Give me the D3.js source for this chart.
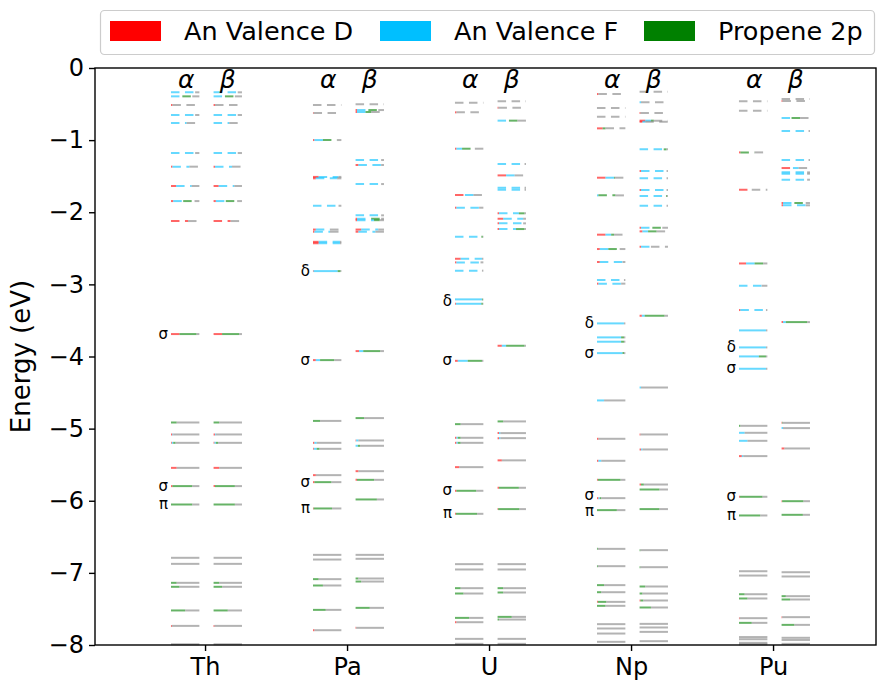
<!DOCTYPE html>
<html>
<head>
<meta charset="utf-8">
<script src="https://cdn.jsdelivr.net/npm/d3@7/dist/d3.min.js"></script>
<style>
  body { margin:0; background:#fff; }
  svg text { font-family:"DejaVu Sans", sans-serif; fill:#000; }
</style>
</head>
<body>
<svg id="chart" width="877" height="687"></svg>
<script>
// Categories, legend, ticks
const elements = ['Th', 'Pa', 'U', 'Np', 'Pu'];
const legendNames = ['An Valence D', 'An Valence F', 'Propene 2p'];
const partColors = ['#ff0000', '#00bfff', '#008000', '#808080'];
const yTicks = [0, -1, -2, -3, -4, -5, -6, -7, -8];

// Levels: [energy eV, An d fraction, An f fraction, propene 2p fraction]
const thAlpha = [
  [-0.337,0,.85,0],[-0.393,0,.4,.35],[-0.513,.05,0,0],[-0.652,0,.85,0],[-0.763,0,.55,0],
  [-1.179,0,.85,0],[-1.368,.05,.6,0],[-1.636,.18,.55,0],[-1.845,.08,.35,.4],[-2.122,.6,0,0],
  [-3.689,.3,0,.6],[-4.915,0,0,.2],[-5.081,.05,.03,0],[-5.197,.03,.05,.08],[-5.544,.2,0,0],
  [-5.797,.05,0,.7],[-6.052,0,0,.75],[-6.791,0,0,0],[-6.875,0,0,0],[-7.138,0,0,.2],
  [-7.193,0,0,.3],[-7.521,0,0,.5],[-7.735,.03,0,0],[-7.99,0,0,0]
];
const thBeta = thAlpha.map(l => l.slice());

const paAlpha = [
  [-0.513,0,0,0],[-0.624,.02,0,0],[-0.999,.05,.3,.5],[-1.51,.2,.7,0],[-1.53,.1,.75,0],
  [-1.91,0,.9,0],[-2.24,.1,.5,0],[-2.27,.05,.55,0],[-2.41,.2,.75,0],[-2.43,.2,.75,0],
  [-2.816,.02,.85,.1],[-4.05,.1,.15,.5],[-4.893,0,0,.25],[-5.197,.05,.08,0],[-5.28,.03,.1,.1],
  [-5.645,.1,0,0],[-5.742,.05,0,.6],[-6.107,.02,0,.65],[-6.75,0,0,0],[-6.815,0,0,0],
  [-7.087,0,0,.2],[-7.175,0,0,.35],[-7.513,0,0,.45],[-7.795,.05,0,0]
];
const paBeta = [
  [-0.504,0,0,0],[-0.583,.05,.4,.35],[-0.61,.05,.3,.2],[-1.276,0,.9,0],[-1.345,.1,.8,0],
  [-1.609,0,.9,0],[-2.043,0,.9,0],[-2.09,.05,.5,.35],[-2.11,.05,.6,.2],[-2.24,.2,.6,0],
  [-2.27,.1,.6,0],[-3.925,.12,.15,.6],[-4.854,0,0,.3],[-5.164,.02,.08,0],[-5.238,0,.08,.08],
  [-5.59,.1,0,0],[-5.71,.05,0,.6],[-5.982,0,0,.75],[-6.75,0,0,0],[-6.805,0,0,0],
  [-7.078,0,0,.1],[-7.12,0,0,.2],[-7.485,0,0,.5],[-7.762,.02,0,0]
];

const uAlpha = [
  [-0.481,0,0,0],[-0.615,.05,0,0],[-1.119,.05,.2,.45],[-1.761,.35,.3,0],[-1.937,.05,.8,0],
  [-2.339,0,.93,.05],[-2.645,.2,.75,0],[-2.695,.05,.85,0],[-2.81,0,.95,0],[-3.208,0,.95,.03],
  [-3.269,.03,.9,.05],[-4.06,.1,.35,.5],[-4.938,0,0,.2],[-5.127,.05,.05,.1],[-5.197,.05,.05,.1],
  [-5.534,.15,0,0],[-5.862,.05,0,.7],[-6.181,.03,0,.75],[-6.879,0,0,0],[-6.953,0,0,0],
  [-7.212,0,0,.2],[-7.286,0,0,.3],[-7.624,0,0,.5],[-7.684,.05,0,0],[-7.915,0,0,0],[-7.984,0,0,0]
];
const uBeta = [
  [-0.462,0,0,0],[-0.55,.03,0,0],[-0.73,0,.4,.3],[-1.331,0,.95,0],[-1.489,.3,.3,0],
  [-1.66,0,.95,0],[-1.688,0,.95,0],[-2.015,.05,.7,.2],[-2.09,.2,.7,0],[-2.154,.05,.85,0],
  [-2.233,.05,.6,.3],[-3.851,.15,.15,.65],[-4.9,0,0,.2],[-5.062,.05,.05,0],[-5.132,.05,.05,0],
  [-5.44,.15,0,0],[-5.82,.05,0,.7],[-6.116,.02,0,.75],[-6.879,0,0,0],[-6.953,0,0,0],
  [-7.212,0,0,.2],[-7.272,0,0,.2],[-7.61,0,0,.5],[-7.647,0,0,.05],[-7.915,0,0,0],[-7.984,0,0,0]
];

const npAlpha = [
  [-0.361,.05,0,0],[-0.555,0,0,0],[-0.675,0,0,0],[-0.837,.2,0,.1],[-1.521,.3,.3,.03],
  [-1.766,0,.05,.6],[-2.311,.3,.2,.1],[-2.51,.1,.3,.4],[-2.69,.1,.8,0],[-2.94,0,.95,0],
  [-2.99,.05,.8,0],[-3.541,0,.95,0],[-3.735,0,.85,.1],[-3.795,0,.85,.1],[-3.953,0,.9,.05],
  [-4.609,0,.25,0],[-5.141,.05,0,0],[-5.446,.05,.1,0],[-5.71,.03,0,.8],[-5.964,.05,.05,.05],
  [-6.13,0,0,.7],[-6.667,0,0,.03],[-6.907,0,0,.03],[-7.17,0,0,.25],[-7.268,0,0,.15],
  [-7.402,.03,0,.3],[-7.457,0,0,.3],[-7.711,0,0,0],[-7.771,0,0,0],[-7.841,0,0,0],[-7.956,0,0,0]
];
const npBeta = [
  [-0.328,0,0,0],[-0.475,0,.05,0],[-0.624,.03,0,0],[-0.73,.2,.2,.1],[-0.745,.1,.1,0],
  [-1.128,0,.85,.1],[-1.428,.05,.9,0],[-1.53,0,.95,0],[-1.692,.05,.9,0],[-1.775,0,.93,.03],
  [-1.91,0,.95,0],[-2.215,.05,.4,.35],[-2.265,.1,.2,.3],[-2.478,.05,.35,0],[-3.435,.08,.1,.7],
  [-4.43,0,.05,0],[-5.081,.03,0,0],[-5.289,.05,.05,0],[-5.775,.05,0,.1],[-5.844,0,0,.7],
  [-6.116,0,0,.7],[-6.685,0,0,.03],[-6.921,0,0,.03],[-7.189,0,0,.2],[-7.286,0,0,.1],
  [-7.383,.03,0,.1],[-7.48,0,0,.4],[-7.707,0,0,0],[-7.757,0,0,0],[-7.818,0,0,0],[-7.947,0,0,0]
];

const puAlpha = [
  [-0.462,0,0,0],[-0.592,0,0,0],[-1.17,.05,0,.5],[-1.688,.45,0,0],[-2.71,.25,.3,.3],
  [-3.019,0,.8,0],[-3.356,.05,.9,0],[-3.638,0,.95,0],[-3.874,0,.95,0],[-3.999,0,.7,.25],
  [-4.17,0,.95,0],[-4.961,0,0,.05],[-5.058,0,.2,0],[-5.169,0,.3,0],[-5.381,.1,.05,0],
  [-5.945,.03,0,.8],[-6.204,0,0,.75],[-6.977,0,0,0],[-7.037,0,0,0],[-7.296,0,0,.2],
  [-7.355,0,0,.3],[-7.628,.02,0,0],[-7.693,0,0,.45],[-7.89,0,0,0],[-7.92,0,0,0],
  [-7.97,0,0,0],[-7.99,0,0,0]
];
const puBeta = [
  [-0.43,0,0,0],[-0.458,.03,0,0],[-0.693,0,.35,.3],[-0.874,0,.95,0],[-1.276,0,.95,0],
  [-1.387,.4,.2,0],[-1.447,0,.9,0],[-1.466,0,.9,0],[-1.549,0,.9,0],[-1.872,.05,.4,.4],
  [-1.904,.05,.8,0],[-3.523,.05,.1,.75],[-4.92,.02,0,.02],[-4.993,0,.05,0],[-5.275,.1,0,0],
  [-6.006,.02,0,.75],[-6.195,0,0,.75],[-6.991,0,0,0],[-7.05,0,0,0],[-7.323,0,0,.15],
  [-7.369,0,0,.3],[-7.614,.02,0,0],[-7.721,0,0,.45],[-7.9,0,0,0],[-7.93,0,0,0],[-7.984,0,0,0]
];

const alphaLevels = [thAlpha, paAlpha, uAlpha, npAlpha, puAlpha];
const betaLevels = [thBeta, paBeta, uBeta, npBeta, puBeta];
// highest occupied level per column (levels above are virtual, drawn dashed)
const homoAlpha = [-3.689, -2.816, -3.208, -3.541, -3.638];
const homoBeta = [-3.689, -3.925, -3.851, -3.435, -3.523];

// Orbital symbols beside the alpha column: [symbol, energy]
const thSymbols = [['σ', -3.689], ['σ', -5.797], ['π', -6.052]];
const paSymbols = [['δ', -2.816], ['σ', -4.05], ['σ', -5.742], ['π', -6.107]];
const uSymbols = [['δ', -3.24], ['σ', -4.06], ['σ', -5.862], ['π', -6.181]];
const npSymbols = [['δ', -3.541], ['σ', -3.953], ['σ', -5.93], ['π', -6.15]];
const puSymbols = [['δ', -3.874], ['σ', -4.17], ['σ', -5.945], ['π', -6.204]];
const symbolSets = [thSymbols, paSymbols, uSymbols, npSymbols, puSymbols];

// ------- drawing -------
const svg = d3.select('#chart');
const margin = { top:68, right:1, bottom:42, left:95 };
const W = 877, H = 687;

const x = d3.scaleLinear().domain([-0.775, 4.725]).range([margin.left, W - margin.right]);
const y = d3.scaleLinear().domain([0, -8]).range([margin.top, H - margin.bottom]);

const spinOffset = { alpha:-0.24, beta:0.06 };
const barWidth = 0.2;
const dash = '8.5,5.5';

const levelsG = svg.append('g');

function drawColumn(i, levels, homo, spin){
  const x0 = x(i + spinOffset[spin]);
  const w = x(i + spinOffset[spin] + barWidth) - x0;
  levels.forEach(([e, d, f, p]) => {
    const fr = [d, f, p, Math.max(0, 1 - d - f - p)];
    const dashed = e > homo + 1e-6;
    let start = x0;
    fr.forEach((v, k) => {
      if (v <= 0) return;
      const len = v * w;
      levelsG.append('line')
        .attr('x1', start).attr('x2', start + len)
        .attr('y1', y(e)).attr('y2', y(e))
        .attr('stroke', partColors[k])
        .attr('stroke-width', 2)
        .attr('stroke-opacity', 0.6)
        .attr('stroke-dasharray', dashed ? dash : null);
      start += len;
    });
  });
}

elements.forEach((el, i) => {
  drawColumn(i, alphaLevels[i], homoAlpha[i], 'alpha');
  drawColumn(i, betaLevels[i], homoBeta[i], 'beta');

  // alpha / beta headers
  svg.append('text')
    .attr('x', x(i + spinOffset.alpha + barWidth / 2) + 1).attr('y', 88)
    .attr('text-anchor', 'middle').attr('font-size', 25).attr('font-style', 'italic')
    .text('α');
  svg.append('text')
    .attr('x', x(i + spinOffset.beta + barWidth / 2)).attr('y', 88)
    .attr('text-anchor', 'middle').attr('font-size', 25).attr('font-style', 'italic')
    .text('β');

  // orbital symbols
  symbolSets[i].forEach(([s, e]) => {
    svg.append('text')
      .attr('x', x(i + spinOffset.alpha) - 3).attr('y', y(e))
      .attr('dy', '0.3em')
      .attr('text-anchor', 'end').attr('font-size', 15)
      .text(s);
  });
});

// Axes
const fmt = v => (v < 0 ? '\u2212' + Math.abs(v) : String(v));
const ay = svg.append('g')
  .attr('transform', `translate(${margin.left},0)`)
  .call(d3.axisLeft(y).tickValues(yTicks).tickFormat(fmt).tickSize(6).tickPadding(5));
const ax = svg.append('g')
  .attr('transform', `translate(0,${H - margin.bottom})`)
  .call(d3.axisBottom(x).tickValues(d3.range(elements.length)).tickFormat(i => elements[i]).tickSize(6).tickPadding(7));
[ay, ax].forEach(g => {
  g.select('.domain').remove();
  g.selectAll('line').attr('stroke', '#000').attr('stroke-width', 1.4);
  g.selectAll('text').attr('font-size', 24).attr('font-family', '"DejaVu Sans", sans-serif').attr('fill', '#000');
});

// frame
svg.append('rect')
  .attr('x', margin.left).attr('y', margin.top)
  .attr('width', W - margin.right - margin.left).attr('height', H - margin.bottom - margin.top)
  .attr('fill', 'none').attr('stroke', '#000').attr('stroke-width', 1.4);

// y label
svg.append('text')
  .attr('transform', `translate(30,${(margin.top + H - margin.bottom) / 2}) rotate(-90)`)
  .attr('text-anchor', 'middle').attr('font-size', 26)
  .text('Energy (eV)');

// Legend
const legend = svg.append('g');
legend.append('rect')
  .attr('x', 100.5).attr('y', 10.5).attr('width', 774).attr('height', 44).attr('rx', 4)
  .attr('fill', '#fff').attr('stroke', '#ccc').attr('stroke-width', 1.2);
const legendX = [110, 380, 644];
legendNames.forEach((name, k) => {
  legend.append('rect')
    .attr('x', legendX[k]).attr('y', 21).attr('width', 51).attr('height', 20)
    .attr('fill', partColors[k]);
  legend.append('text')
    .attr('x', legendX[k] + 74).attr('y', 40)
    .attr('font-size', 25.5)
    .text(name);
});
</script>
</body>
</html>
